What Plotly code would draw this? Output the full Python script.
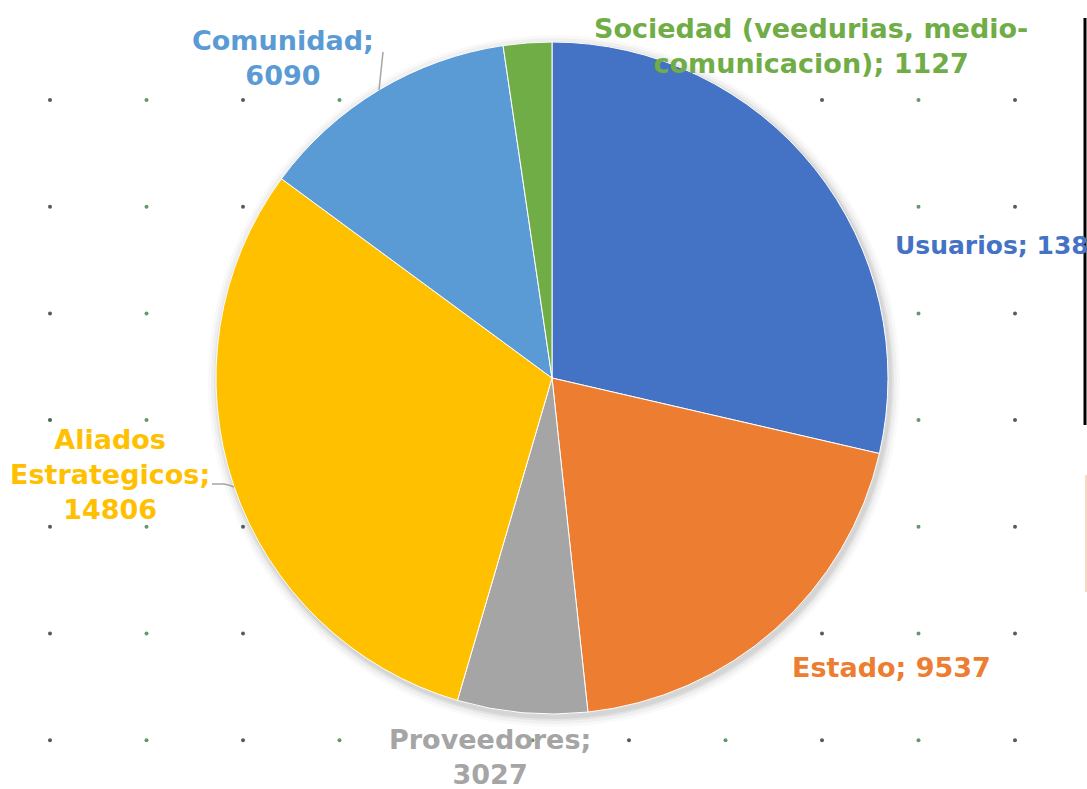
import plotly.graph_objects as go

labels = ["Usuarios", "Estado", "Proveedores", "Aliados Estrategicos", "Comunidad",
          "Sociedad (veedurias, medio-comunicacion)"]
values = [13860, 9537, 3027, 14806, 6090, 1127]
colors = ["#4472C4", "#ED7D31", "#A5A5A5", "#FFC000", "#5B9BD5", "#70AD47"]

W, H = 1087, 789
cx, cy, R = 552, 378, 336

fig = go.Figure()

# background dotted grid (decoration)
gx = [50 + 96.5 * i for i in range(11)]
gy = [100 + 106.7 * j for j in range(7)]
for parity, col in [(0, "#4f5f5a"), (1, "#5f9a6c")]:
    xs, ys = [], []
    for i, x in enumerate(gx):
        if i % 2 != parity:
            continue
        for y in gy:
            xs.append(x)
            ys.append(y)
    fig.add_trace(go.Scatter(x=xs, y=ys, mode="markers",
                             marker=dict(size=4, color=col), hoverinfo="skip",
                             showlegend=False))

fig.add_trace(go.Pie(
    labels=labels, values=values, sort=False, direction="clockwise", rotation=0,
    marker=dict(colors=colors, line=dict(color="white", width=1)),
    textinfo="none", showlegend=False, hole=0,
    domain=dict(x=[(cx - R) / W, (cx + R) / W], y=[1 - (cy + R) / H, 1 - (cy - R) / H]),
))

font = "DejaVu Sans"
def lab(i, txt, x, y, anchor="center", size=27):
    fig.add_annotation(text=txt, x=x, y=y, xref="x", yref="y", showarrow=False,
                       xanchor=anchor, yanchor="middle", align="center",
                       font=dict(family=font, size=size, color=colors[i], weight="bold"))

lab(0, f"{labels[0]}; {values[0]}", 893, 245, anchor="left", size=25)
lab(1, f"{labels[1]}; {values[1]}", 891, 667)
lab(2, f"{labels[2]};<br>{values[2]}", 490, 757)
lab(3, f"Aliados<br>Estrategicos;<br>{values[3]}", 110, 474)
lab(4, f"{labels[4]};<br>{values[4]}", 283, 58)
lab(5, "Sociedad (veedurias, medio-<br>comunicacion); " + str(values[5]), 811, 46)

# shadow around pie
shapes = []
for k, op in [(10, 0.025), (7, 0.035), (4, 0.05), (2, 0.06)]:
    shapes.append(dict(type="circle", xref="x", yref="y", x0=cx - R - k + 2, x1=cx + R + k + 2,
                       y0=cy - R - k + 3, y1=cy + R + k + 3, fillcolor=f"rgba(0,0,0,{op})",
                       line=dict(width=0), layer="below"))
# leader lines
shapes.append(dict(type="path", xref="x", yref="y", path="M 383 52 L 379 90",
                   line=dict(color="#A5A5A5", width=1.5)))
shapes.append(dict(type="path", xref="x", yref="y", path="M 212 484 L 224 484 Q 230 485 234 487",
                   line=dict(color="#A5A5A5", width=1.5)))
# cut-off legend frame at the right edge
shapes.append(dict(type="line", xref="x", yref="y", x0=1085, x1=1085, y0=18, y1=425,
                   line=dict(color="black", width=3)))
shapes.append(dict(type="line", xref="x", yref="y", x0=1086, x1=1086, y0=475, y1=592,
                   line=dict(color="#F8D9C4", width=2)))

fig.update_layout(
    width=W, height=H, margin=dict(l=0, r=0, t=0, b=0),
    paper_bgcolor="white", plot_bgcolor="white",
    xaxis=dict(range=[0, W], visible=False, domain=[0, 1], fixedrange=True),
    yaxis=dict(range=[H, 0], visible=False, domain=[0, 1], fixedrange=True),
    shapes=shapes,
)
fig.write_html("out.html", config={"displayModeBar": False},
               post_script="document.body.style.margin='0';document.body.style.overflow='hidden';")
